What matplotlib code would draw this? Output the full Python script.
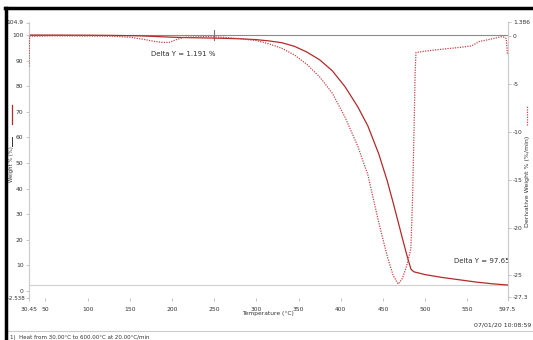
import matplotlib
matplotlib.use("Agg")
import matplotlib.pyplot as plt
from matplotlib.lines import Line2D

# Weight curve (%), temperature in degC
temp_w = [30.45, 60, 100, 130, 160, 180, 200, 220, 250, 280, 300, 315, 330, 345, 360,
          375, 390, 405, 420, 432, 445, 455, 462, 468, 473, 478, 483, 485, 487, 489,
          500, 520, 540, 560, 580, 597.5]
weight = [100, 99.98, 99.93, 99.85, 99.7, 99.45, 99.15, 98.98, 98.81, 98.55, 98.2,
          97.7, 97.0, 95.6, 93.3, 90.3, 86.0, 79.8, 72.0, 64.5, 53.5, 43.0, 34.5, 26.9,
          20.5, 14.3, 8.6, 7.9, 7.45, 7.3, 6.4, 5.3, 4.4, 3.5, 2.8, 2.347]

# Derivative weight curve (%/min)
temp_d = [30.45, 31, 60, 100, 130, 150, 165, 180, 190, 197, 205, 215, 240, 260, 280,
          300, 315, 330, 345, 360, 375, 390, 405, 420, 432, 445, 455, 462, 468, 473,
          478, 483, 485, 487, 488, 489, 500, 520, 540, 555, 560, 564, 575, 585, 590,
          594, 596, 597.5]
deriv = [-3.2, -0.05, 0, -0.02, -0.05, -0.15, -0.35, -0.6, -0.7, -0.68, -0.4, -0.15,
         -0.08, -0.15, -0.3, -0.5, -0.85, -1.3, -2.0, -3.0, -4.3, -6.0, -8.5, -11.5,
         -14.5, -19.5, -23.0, -25.0, -25.9, -25.3, -24.0, -22.2, -17.0, -8.8, -4.0,
         -1.75, -1.6, -1.4, -1.22, -1.05, -0.8, -0.6, -0.4, -0.2, -0.1, -0.15, -0.3,
         -2.0]

x_ticks = [30.45, 50, 100, 150, 200, 250, 300, 350, 400, 450, 500, 550, 597.5]
x_tick_labels = ["30.45", "50", "100", "150", "200", "250", "300", "350", "400",
                 "450", "500", "550", "597.5"]
yl_ticks = [104.9, 100, 90, 80, 70, 60, 50, 40, 30, 20, 10, 0, -2.538]
yl_tick_labels = ["104.9", "100", "90", "80", "70", "60", "50", "40", "30", "20",
                  "10", "0", "-2.538"]
yr_ticks = [1.386, 0, -5, -10, -15, -20, -25, -27.3]
yr_tick_labels = ["1.386", "0", "-5", "-10", "-15", "-20", "-25", "-27.3"]

step1_value = 1.191
step2_value = 97.653
step1_temp = 250

TEXT = "#333333"
RED = "#b22a2a"
DOT = "#c24848"
TICK_FS = 4.3

fig = plt.figure(figsize=(5.33, 3.40), dpi=100)
ax = fig.add_axes([29 / 533, 1 - 297.5 / 340, (507.5 - 29) / 533, 275 / 340])
ax2 = ax.twinx()

ax.set_xlim(30.45, 597.5)
ax.set_ylim(-2.538, 104.9)
ax2.set_ylim(-27.3, 1.386)

# step reference lines
ax.axhline(100, color="#8a8a8a", lw=0.8, zorder=1)
ax.axhline(100 - step2_value, color="#d0d0d0", lw=0.8, zorder=1)
ax.plot([step1_temp, step1_temp], [98.0, 102.0], color="#777777", lw=0.8, zorder=2)

ax.plot(temp_w, weight, color=RED, lw=0.9, zorder=3)
ax2.plot(temp_d, deriv, color=DOT, lw=0.9, linestyle=(0, (1, 1)), zorder=3)

ax.text(213.5, 92.6, f"Delta Y = {step1_value} %", fontsize=5, color=TEXT,
        ha="center", va="center")
ax.text(534.5, 11.7, f"Delta Y = {step2_value} %", fontsize=5, color=TEXT,
        ha="left", va="center", clip_on=True)

for a in (ax, ax2):
    a.spines["top"].set_visible(False)
    a.spines["bottom"].set_visible(False)
    a.spines["left"].set_color("#cccccc")
    a.spines["right"].set_color("#cccccc")
    a.spines["left"].set_linewidth(0.8)
    a.spines["right"].set_linewidth(0.8)

ax.set_xticks(x_ticks)
ax.set_xticklabels(x_tick_labels)
ax.set_yticks(yl_ticks)
# the lowest left label is drawn separately, just below "0"
ax.set_yticklabels(yl_tick_labels[:-1] + [""])
ax2.set_yticks(yr_ticks)
ax2.set_yticklabels(yr_tick_labels)
ax.tick_params(axis="x", length=2, pad=5, color="#bbbbbb", labelsize=TICK_FS,
               labelcolor=TEXT, width=0.6)
ax.tick_params(axis="y", length=2, pad=2, color="#bbbbbb", labelsize=TICK_FS,
               labelcolor=TEXT, width=0.6)
ax2.tick_params(axis="y", length=2, pad=2, color="#bbbbbb", labelsize=TICK_FS,
                labelcolor=TEXT, width=0.6)
fig.text(25 / 533, 1 - 298.5 / 340, yl_tick_labels[-1], fontsize=4.0, color=TEXT,
         ha="right", va="center")

ax.set_xlabel("Temperature (\u00b0C)", fontsize=4.3, color=TEXT, labelpad=-1)

# axis titles with line samples
fig.text(12 / 533, 1 - 164 / 340, "Weight % (%)", rotation=90, fontsize=3.8,
         color=TEXT, ha="center", va="center")
fig.add_artist(Line2D([12 / 533, 12 / 533], [1 - 146 / 340, 1 - 137 / 340],
                      color="#333333", lw=0.7))
fig.add_artist(Line2D([12 / 533, 12 / 533], [1 - 124 / 340, 1 - 105 / 340],
                      color=RED, lw=0.9))
fig.text(527 / 533, 1 - 181 / 340, "Derivative Weight % (%/min)", rotation=90,
         fontsize=4.5, color=TEXT, ha="center", va="center")
fig.add_artist(Line2D([527 / 533, 527 / 533], [1 - 125 / 340, 1 - 105 / 340],
                      color=DOT, lw=0.9, linestyle=(0, (1, 1))))

fig.text(531 / 533, 1 - 325 / 340, "07/01/20 10:08:59", fontsize=4.5, color=TEXT,
         ha="right", va="center")
fig.add_artist(Line2D([8 / 533, 1], [1 - 331 / 340, 1 - 331 / 340],
                      color="#cccccc", lw=0.8))
fig.text(10 / 533, 1 - 337.5 / 340,
         "1)  Heat from 30.00\u00b0C to 600.00\u00b0C at 20.00\u00b0C/min",
         fontsize=4, color=TEXT, ha="left", va="center")

# frame edges
fig.add_artist(Line2D([5 / 533, 1], [1 - 8 / 340, 1 - 8 / 340], color="black", lw=2.5))
fig.add_artist(Line2D([6 / 533, 6 / 533], [0, 1 - 8 / 340], color="black", lw=2.5))

fig.savefig("out.png", dpi=100)
